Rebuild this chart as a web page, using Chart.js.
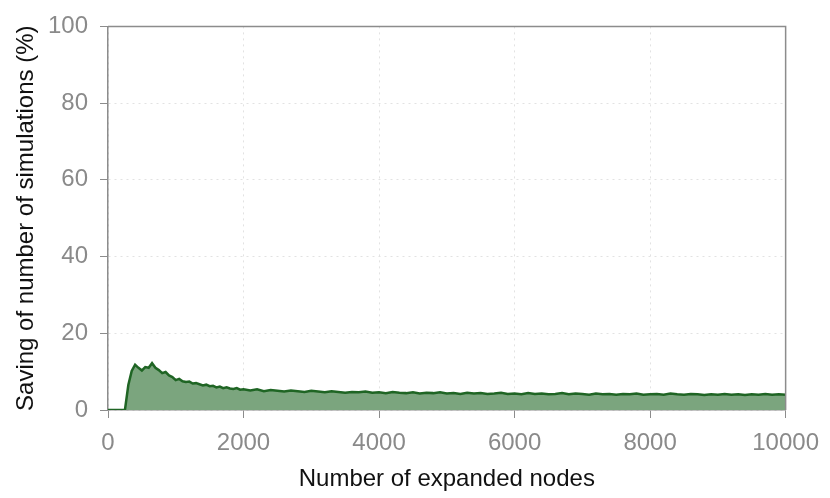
<!DOCTYPE html>
<html lang="en">
<head>
<meta charset="UTF-8">
<title>Saving of simulations</title>
<script src="https://cdn.jsdelivr.net/npm/chart.js"></script>
<style>
  html, body { margin: 0; padding: 0; background: #fff; }
  .box { width: 830px; height: 498px; }
</style>
</head>
<body>
<div class="box"><canvas id="myChart" width="830" height="498"></canvas></div>

<script>
// number of expanded nodes (x) and saving in % (y)
const nodes = [
  0, 100, 200, 250, 300, 350, 400, 450, 500, 550, 600, 650, 700, 750, 800, 850, 900, 950,
  1000, 1050, 1100, 1150, 1200, 1250, 1300, 1350, 1400, 1450, 1500, 1550, 1600, 1650,
  1700, 1750, 1800, 1850, 1900, 1950, 2000,
  2100, 2200, 2300, 2400, 2500, 2600, 2700, 2800, 2900, 3000,
  3100, 3200, 3300, 3400, 3500, 3600, 3700, 3800, 3900, 4000,
  4100, 4200, 4300, 4400, 4500, 4600, 4700, 4800, 4900, 5000,
  5100, 5200, 5300, 5400, 5500, 5600, 5700, 5800, 5900, 6000,
  6100, 6200, 6300, 6400, 6500, 6600, 6700, 6800, 6900, 7000,
  7100, 7200, 7300, 7400, 7500, 7600, 7700, 7800, 7900, 8000,
  8100, 8200, 8300, 8400, 8500, 8600, 8700, 8800, 8900, 9000,
  9100, 9200, 9300, 9400, 9500, 9600, 9700, 9800, 9900, 10000
];
const saving = [
  0, 0, 0, 0, 6.5, 10.2, 11.8, 11.0, 10.3, 11.2, 11.0, 12.2, 11.0, 10.4, 9.6, 9.9, 9.0, 8.6,
  7.8, 8.1, 7.5, 7.3, 7.4, 6.9, 7.0, 6.7, 6.4, 6.6, 6.2, 6.3, 5.9, 6.1,
  5.7, 5.9, 5.6, 5.5, 5.7, 5.3, 5.4,
  5.1, 5.4, 4.9, 5.2, 5.0, 4.8, 5.1, 4.9, 4.7, 5.0,
  4.8, 4.6, 4.9, 4.7, 4.5, 4.7, 4.6, 4.8, 4.5, 4.6,
  4.4, 4.7, 4.5, 4.4, 4.6, 4.3, 4.5, 4.4, 4.6, 4.3,
  4.4, 4.2, 4.5, 4.3, 4.4, 4.2, 4.3, 4.5, 4.2, 4.3,
  4.1, 4.4, 4.2, 4.3, 4.1, 4.2, 4.4, 4.1, 4.3, 4.2,
  4.0, 4.3, 4.1, 4.2, 4.0, 4.2, 4.1, 4.3, 4.0, 4.1,
  4.2, 4.0, 4.3, 4.1, 4.0, 4.2, 4.1, 3.9, 4.1, 4.0,
  4.2, 4.0, 4.1, 3.9, 4.1, 4.0, 4.2, 4.0, 4.1, 4.0
];
const xTicks = [0, 2000, 4000, 6000, 8000, 10000];
const yTicks = [0, 20, 40, 60, 80, 100];

const points = nodes.map((n, i) => ({ x: n, y: saving[i] }));

// grey frame around the plot (top + right edges)
const frame = {
  id: 'frame',
  afterDraw(chart) {
    const a = chart.chartArea;
    const c = chart.ctx;
    c.save();
    c.strokeStyle = '#8c8c8c';
    c.lineWidth = 1.5;
    c.beginPath();
    c.moveTo(a.left, a.top);
    c.lineTo(a.right, a.top);
    c.lineTo(a.right, a.bottom);
    c.stroke();
    c.restore();
  }
};

Chart.defaults.font.family = '"Liberation Sans", Arial, Helvetica, sans-serif';

const ctx = document.getElementById('myChart');
new Chart(ctx, {
  type: 'line',
  data: {
    datasets: [{
      data: points,
      borderColor: '#1f6524',
      borderWidth: 2.5,
      backgroundColor: '#7ba57e',
      fill: 'origin',
      pointRadius: 0,
      tension: 0
    }]
  },
  options: {
    responsive: false,
    animation: false,
    layout: { padding: { top: 26, right: 40, left: 12, bottom: 0 } },
    plugins: { legend: { display: false }, tooltip: { enabled: false } },
    scales: {
      x: {
        type: 'linear',
        min: 0, max: 10000,
        afterBuildTicks: s => { s.ticks = xTicks.map(v => ({ value: v })); },
        afterFit: s => { s.height = 88; },
        grid: { color: '#e2e2e2', tickColor: '#8c8c8c', tickLength: 8, tickBorderDash: [] },
        border: { color: '#8c8c8c', width: 1.5, dash: [2, 4] },
        ticks: { color: '#8a8a8a', font: { size: 24 }, padding: 11, maxRotation: 0, callback: v => String(v) },
        title: { display: true, text: 'Number of expanded nodes', color: '#111', font: { size: 24 }, padding: { top: 2 } }
      },
      y: {
        min: 0, max: 100,
        afterBuildTicks: s => { s.ticks = yTicks.map(v => ({ value: v })); },
        afterFit: s => { s.width = 96; },
        grid: { color: '#e2e2e2', tickColor: '#8c8c8c', tickLength: 8, tickBorderDash: [] },
        border: { color: '#8c8c8c', width: 1.5, dash: [2, 4] },
        ticks: { color: '#8a8a8a', font: { size: 24 }, padding: 12, callback: v => String(v) },
        title: { display: true, text: 'Saving of number of simulations (%)', color: '#111', font: { size: 24 }, padding: 0 }
      }
    }
  },
  plugins: [frame]
});
</script>
</body>
</html>
